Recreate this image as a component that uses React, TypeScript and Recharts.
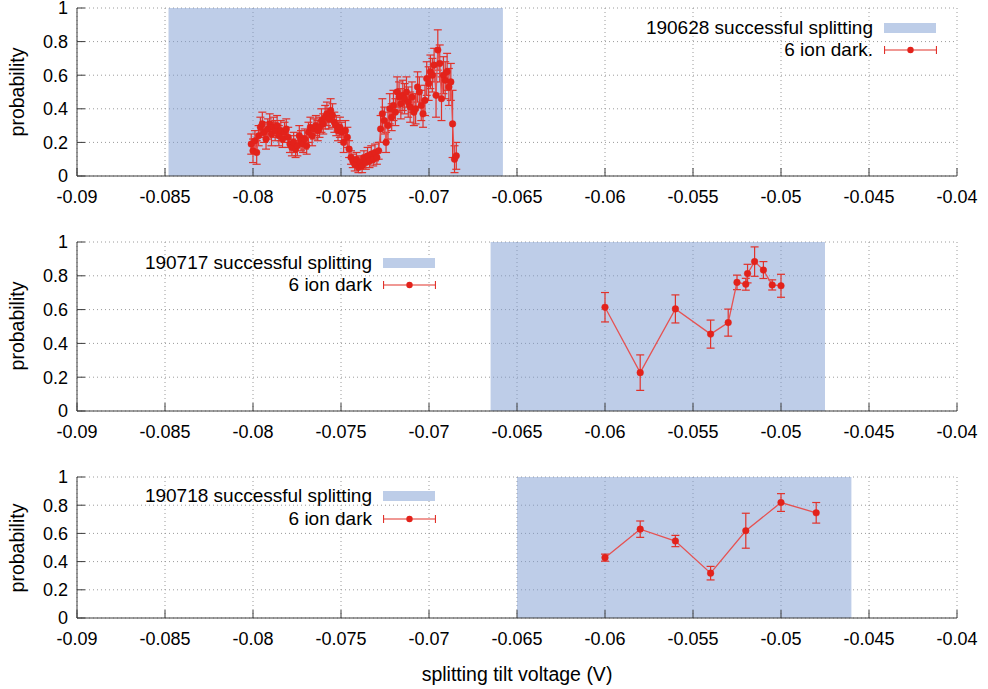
import { ComposedChart, Line, ErrorBar, XAxis, YAxis, CartesianGrid, ReferenceArea } from 'recharts';

const FONT = '"Liberation Sans", Arial, Helvetica, sans-serif';
const AXIS = '#3c3c3c';
const RED = '#e3221b';

const X_TICKS = [-0.09, -0.085, -0.08, -0.075, -0.07, -0.065, -0.06, -0.055, -0.05, -0.045, -0.04];
const Y_TICKS = [0, 0.2, 0.4, 0.6, 0.8, 1];

// 190628 scan
const TOP_X = [
  -0.0801, -0.08, -0.07989, -0.07979, -0.07968, -0.07958, -0.07947, -0.07937, -0.07926, -0.07916,
  -0.07905, -0.07895, -0.07884, -0.07874, -0.07863, -0.07853, -0.07842, -0.07832, -0.07821, -0.07811,
  -0.078, -0.0779, -0.07779, -0.07769, -0.07758, -0.07748, -0.07737, -0.07727, -0.07716, -0.07706,
  -0.07695, -0.07685, -0.07674, -0.07664, -0.07653, -0.07643, -0.07632, -0.07622, -0.07611, -0.07601,
  -0.0759, -0.0758, -0.07569, -0.07559, -0.07548, -0.07538, -0.07527, -0.07517, -0.07506, -0.07496,
  -0.07485, -0.07475, -0.07464, -0.07454, -0.07443, -0.07433, -0.07422, -0.07412, -0.07401, -0.07391,
  -0.0738, -0.0737, -0.07359, -0.07349, -0.07338, -0.07328, -0.07317, -0.07307, -0.07296, -0.07286,
  -0.07275, -0.07265, -0.07254, -0.07244, -0.07233, -0.07223, -0.07212, -0.07202, -0.07191, -0.07181,
  -0.0717, -0.0716, -0.07149, -0.07139, -0.07128, -0.07118, -0.07107, -0.07097, -0.07086, -0.07076,
  -0.07065, -0.07055, -0.07044, -0.07034, -0.07023, -0.07013, -0.07002, -0.06992, -0.06981, -0.06971,
  -0.0696, -0.0695, -0.06939, -0.06929, -0.06918, -0.06908, -0.06897, -0.06887, -0.06876, -0.06866,
  -0.06855, -0.06845,
];
const TOP_Y = [
  0.19, 0.15, 0.21, 0.14, 0.24, 0.29, 0.31, 0.26, 0.22, 0.28,
  0.31, 0.25, 0.29, 0.27, 0.3, 0.24, 0.27, 0.22, 0.26, 0.28,
  0.23, 0.19, 0.17, 0.2, 0.16, 0.18, 0.24, 0.21, 0.19, 0.22,
  0.18, 0.26, 0.29, 0.24, 0.28, 0.3, 0.27, 0.29, 0.33, 0.31,
  0.35, 0.37, 0.34, 0.39, 0.36, 0.32, 0.3, 0.27, 0.29, 0.26,
  0.2, 0.27, 0.23, 0.16, 0.11, 0.09, 0.07, 0.1, 0.05, 0.08,
  0.06, 0.11, 0.08, 0.12, 0.09, 0.13, 0.1, 0.14, 0.11, 0.15,
  0.28, 0.37, 0.33, 0.2, 0.3, 0.4, 0.35, 0.42, 0.38, 0.5,
  0.47, 0.43, 0.48, 0.46, 0.5, 0.44, 0.41, 0.47, 0.38, 0.4,
  0.53, 0.5, 0.42, 0.37, 0.45, 0.58, 0.55, 0.62, 0.6, 0.66,
  0.48, 0.75, 0.67, 0.46, 0.6, 0.57, 0.62, 0.53, 0.56, 0.31,
  0.1, 0.12,
];
const TOP_ERR = [
  0.06, 0.07, 0.06, 0.07, 0.06, 0.06, 0.07, 0.06, 0.06, 0.06,
  0.06, 0.07, 0.06, 0.06, 0.06, 0.06, 0.06, 0.05, 0.06, 0.06,
  0.06, 0.05, 0.05, 0.06, 0.05, 0.06, 0.06, 0.06, 0.05, 0.06,
  0.05, 0.06, 0.06, 0.06, 0.06, 0.06, 0.06, 0.06, 0.07, 0.06,
  0.07, 0.07, 0.06, 0.07, 0.07, 0.06, 0.06, 0.06, 0.06, 0.06,
  0.06, 0.06, 0.06, 0.05, 0.04, 0.04, 0.04, 0.04, 0.03, 0.04,
  0.04, 0.04, 0.04, 0.05, 0.04, 0.05, 0.04, 0.05, 0.04, 0.05,
  0.08, 0.09, 0.08, 0.06, 0.08, 0.09, 0.08, 0.09, 0.08, 0.09,
  0.09, 0.09, 0.09, 0.09, 0.09, 0.09, 0.09, 0.09, 0.08, 0.09,
  0.09, 0.09, 0.09, 0.08, 0.09, 0.1, 0.1, 0.1, 0.1, 0.1,
  0.13, 0.12, 0.11, 0.13, 0.11, 0.11, 0.11, 0.11, 0.11, 0.2,
  0.08, 0.08,
];

// 190717 scan
const MID_X = [-0.06, -0.058, -0.056, -0.054, -0.053, -0.0525, -0.052, -0.0519, -0.0515, -0.051, -0.0505, -0.05];
const MID_Y = [0.614, 0.227, 0.604, 0.455, 0.523, 0.761, 0.75, 0.813, 0.884, 0.834, 0.746, 0.741];
const MID_ERR = [0.087, 0.105, 0.083, 0.083, 0.08, 0.043, 0.035, 0.055, 0.087, 0.05, 0.03, 0.068];

// 190718 scan
const BOT_X = [-0.06, -0.058, -0.056, -0.054, -0.052, -0.05, -0.048];
const BOT_Y = [0.428, 0.63, 0.546, 0.318, 0.619, 0.819, 0.746];
const BOT_ERR = [0.025, 0.058, 0.04, 0.048, 0.124, 0.063, 0.073];

// successful splitting ranges
const TOP_SHADE = [-0.0848, -0.0658];
const MID_SHADE = [-0.0665, -0.0475];
const BOT_SHADE = [-0.065, -0.046];

const TOP_LEGEND = ['190628 successful splitting', '6 ion dark.'];
const MID_LEGEND = ['190717 successful splitting', '6 ion dark'];
const BOT_LEGEND = ['190718 successful splitting', '6 ion dark'];

const tickStyle = { fill: '#000', fontSize: 18, fontFamily: FONT };

type PanelProps = {
  top: number;
  height: number;
  mTop: number;
  mBottom: number;
  xs: number[];
  ys: number[];
  errs: number[];
  shade: number[];
};

function Panel({ top, height, mTop, mBottom, xs, ys, errs, shade }: PanelProps) {
  const data = xs.map((x, i) => ({ x, y: ys[i], err: errs[i] }));
  return (
    <div style={{ position: 'absolute', left: 0, top }}>
      <ComposedChart
        width={988}
        height={height}
        data={data}
        margin={{ top: mTop, right: 31, bottom: mBottom, left: 0 }}
        style={{ overflow: 'visible' }}
      >
        <CartesianGrid stroke="#9a9a9a" strokeDasharray="1 3" />
        <ReferenceArea x1={shade[0]} x2={shade[1]} y1={0} y2={1} fill="#7d9bd1" fillOpacity={0.5} stroke="none" />
        <XAxis
          dataKey="x"
          type="number"
          domain={[-0.09, -0.04]}
          ticks={X_TICKS}
          interval={0}
          allowDataOverflow
          height={30}
          stroke={AXIS}
          tickSize={-8}
          tickMargin={22}
          tick={tickStyle}
          tickFormatter={(v: number) => String(v)}
        />
        <XAxis
          xAxisId="top"
          orientation="top"
          type="number"
          domain={[-0.09, -0.04]}
          ticks={X_TICKS}
          interval={0}
          allowDataOverflow
          height={0}
          stroke={AXIS}
          tickSize={-8}
          tick={false}
        />
        <YAxis
          type="number"
          domain={[0, 1]}
          ticks={Y_TICKS}
          interval={0}
          allowDataOverflow
          width={77}
          stroke={AXIS}
          tickSize={-8}
          tickMargin={17}
          tick={tickStyle}
        />
        <YAxis
          yAxisId="right"
          orientation="right"
          type="number"
          domain={[0, 1]}
          ticks={Y_TICKS}
          interval={0}
          allowDataOverflow
          width={0}
          stroke={AXIS}
          tickSize={-8}
          tick={false}
        />
        <Line
          dataKey="y"
          stroke="#e65252"
          strokeWidth={1.3}
          dot={{ r: 3.3, fill: RED, stroke: RED, strokeWidth: 0.5 }}
          activeDot={false}
          isAnimationActive={false}
        >
          <ErrorBar dataKey="err" width={4} stroke="#e1322b" strokeWidth={1.2} direction="y" isAnimationActive={false} />
        </Line>
      </ComposedChart>
    </div>
  );
}

function Legend({ right, y1, y2, x0, labels }: { right: number; y1: number; y2: number; x0: number; labels: string[] }) {
  const text = (y: number, s: string) => (
    <div
      style={{
        position: 'absolute',
        right: 988 - right,
        top: y - 11,
        lineHeight: '22px',
        fontSize: 19,
        whiteSpace: 'nowrap',
        textAlign: 'right',
      }}
    >
      {s}
    </div>
  );
  return (
    <>
      {text(y1, labels[0])}
      <div style={{ position: 'absolute', left: x0, top: y1 - 5, width: 52, height: 10, background: '#bdcde8' }} />
      {text(y2, labels[1])}
      <svg style={{ position: 'absolute', left: x0, top: y2 - 6 }} width={53} height={12}>
        <line x1={0.5} y1={6} x2={52.5} y2={6} stroke="#e1322b" strokeWidth={1.2} />
        <line x1={0.5} y1={2} x2={0.5} y2={10} stroke="#e1322b" strokeWidth={1.2} />
        <line x1={52.5} y1={2} x2={52.5} y2={10} stroke="#e1322b" strokeWidth={1.2} />
        <circle cx={26.5} cy={6} r={3.2} fill={RED} />
      </svg>
    </>
  );
}

function YTitle({ cy }: { cy: number }) {
  return (
    <div
      style={{
        position: 'absolute',
        left: 17.5,
        top: cy,
        transform: 'translate(-50%, -50%) rotate(-90deg)',
        fontSize: 19.5,
        lineHeight: 1,
        whiteSpace: 'nowrap',
      }}
    >
      probability
    </div>
  );
}

export default function App() {
  return (
    <div
      style={{
        position: 'absolute',
        left: 0,
        top: 0,
        width: 988,
        height: 689,
        background: '#fff',
        fontFamily: FONT,
        color: '#000',
        overflow: 'hidden',
      }}
    >
      <Panel top={1} height={214} mTop={7} mBottom={9} xs={TOP_X} ys={TOP_Y} errs={TOP_ERR} shade={TOP_SHADE} />
      <Panel top={230} height={215} mTop={12} mBottom={4} xs={MID_X} ys={MID_Y} errs={MID_ERR} shade={MID_SHADE} />
      <Panel top={465} height={224} mTop={12} mBottom={41} xs={BOT_X} ys={BOT_Y} errs={BOT_ERR} shade={BOT_SHADE} />

      <Legend right={873} y1={28} y2={50} x0={884} labels={TOP_LEGEND} />
      <Legend right={372} y1={263} y2={285} x0={383} labels={MID_LEGEND} />
      <Legend right={372} y1={496} y2={519} x0={383} labels={BOT_LEGEND} />

      <YTitle cy={92} />
      <YTitle cy={326} />
      <YTitle cy={548} />

      <div
        style={{
          position: 'absolute',
          left: 517,
          top: 675,
          transform: 'translate(-50%, -50%)',
          fontSize: 19.5,
          lineHeight: 1,
          whiteSpace: 'nowrap',
        }}
      >
        splitting tilt voltage (V)
      </div>
    </div>
  );
}
